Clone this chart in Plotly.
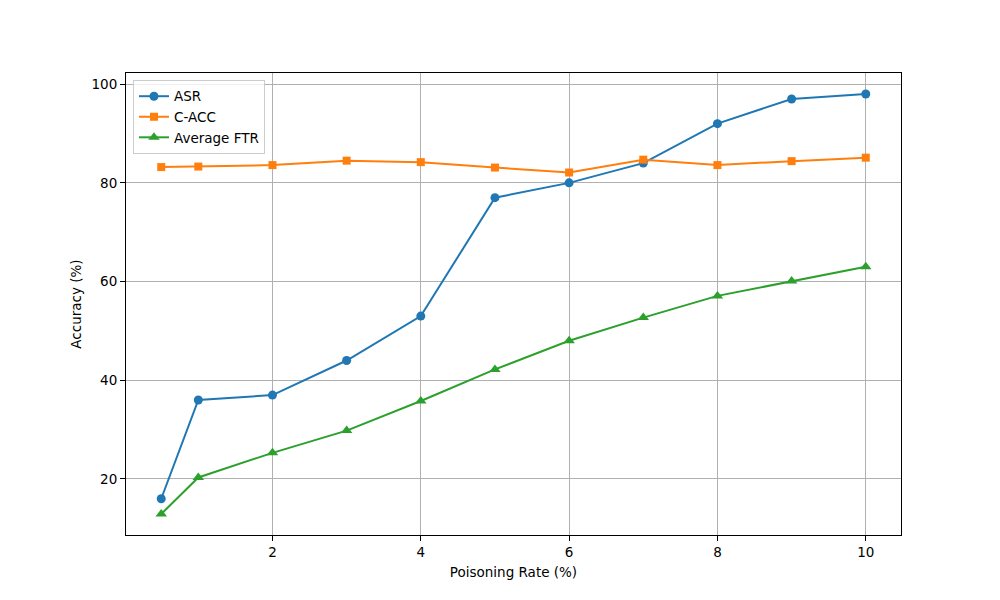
import plotly.graph_objects as go

rates = [0.5, 1, 2, 3, 4, 5, 6, 7, 8, 9, 10]
asr = [16, 36, 37, 44, 53, 77, 80, 84, 92, 97, 98]
cacc = [83.2, 83.3, 83.6, 84.5, 84.2, 83.1, 82.1, 84.7, 83.6, 84.4, 85.1]
ftr = [12.9, 20.3, 25.3, 29.8, 35.8, 42.2, 48.0, 52.7, 57.1, 60.1, 63.0]

x_ticks = [2, 4, 6, 8, 10]
y_ticks = [20, 40, 60, 80, 100]

fig = go.Figure()
fig.add_trace(go.Scatter(x=rates, y=asr, mode="lines+markers", name="ASR",
                         line=dict(color="#1f77b4", width=2),
                         marker=dict(symbol="circle", size=9, color="#1f77b4")))
fig.add_trace(go.Scatter(x=rates, y=cacc, mode="lines+markers", name="C-ACC",
                         line=dict(color="#ff7f0e", width=2),
                         marker=dict(symbol="square", size=8, color="#ff7f0e")))
fig.add_trace(go.Scatter(x=rates, y=ftr, mode="lines+markers", name="Average FTR",
                         line=dict(color="#2ca02c", width=2),
                         marker=dict(symbol="triangle-up", size=10, color="#2ca02c")))

axis_common = dict(showline=True, linecolor="black", linewidth=1, mirror=True,
                   ticks="outside", ticklen=5, tickcolor="black",
                   showgrid=True, gridcolor="#b0b0b0", gridwidth=1, zeroline=False,
                   tickfont=dict(size=13.5, color="black"))

fig.update_layout(
    width=1000, height=600,
    paper_bgcolor="white", plot_bgcolor="white",
    font=dict(family="DejaVu Sans", size=13.5, color="black"),
    margin=dict(l=118, r=107, t=65, b=73),
    xaxis=dict(range=[0.025, 10.475], tickvals=x_ticks,
               title=dict(text="Poisoning Rate (%)", font=dict(size=13.5), standoff=8),
               **axis_common),
    yaxis=dict(range=[8.65, 102.26], tickvals=y_ticks,
               title=dict(text="Accuracy (%)", font=dict(size=13.5), standoff=6),
               **axis_common),
    legend=dict(x=0.009, y=0.985, xanchor="left", yanchor="top",
                bgcolor="rgba(255,255,255,0.8)", bordercolor="#cccccc", borderwidth=1,
                font=dict(size=13.5), tracegroupgap=0),
    showlegend=True,
)

fig.write_html("out.html")
